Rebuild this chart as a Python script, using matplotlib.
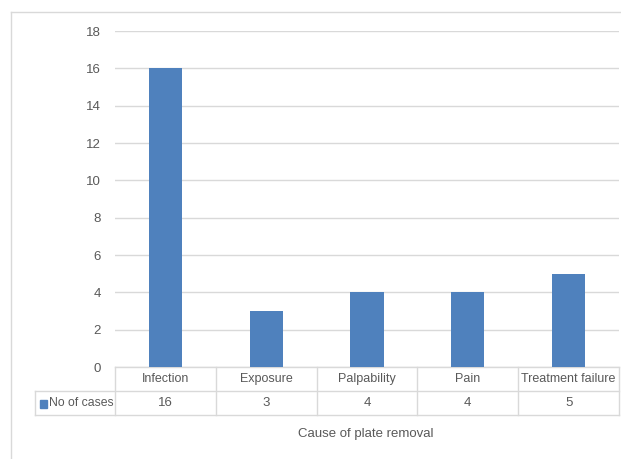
import matplotlib.pyplot as plt
from matplotlib.lines import Line2D
from matplotlib.patches import Rectangle

# Ursachen der Plattenentfernung
categories = ["Infection", "Exposure", "Palpability", "Pain", "Treatment failure"]
cases = [16, 3, 4, 4, 5]
series_name = "No of cases"
y_ticks = [0, 2, 4, 6, 8, 10, 12, 14, 16, 18]

bar_color = "#4f81bd"
grid_color = "#d9d9d9"
text_color = "#595959"
plt.rcParams['font.family'] = ['Liberation Sans Narrow', 'Liberation Sans', 'DejaVu Sans']

W, H = 621, 459
fig = plt.figure(figsize=(W / 100, H / 100), dpi=100)
ax = fig.add_axes([115 / W, 1 - 367 / H, 504 / W, 336 / H])

x = range(len(categories))
ax.bar(x, cases, width=0.33, color=bar_color, zorder=3)
ax.set_xlim(-0.5, len(categories) - 0.5)
ax.set_ylim(0, 18)
ax.set_yticks(y_ticks)
ax.set_xticks([])
ax.yaxis.grid(True, color=grid_color, linewidth=1)
ax.set_axisbelow(True)
ax.tick_params(axis='y', length=0, pad=10, labelsize=9.5, labelcolor=text_color)
for s in ax.spines.values():
    s.set_visible(False)

# Datentabelle unter der Achse (wie in Excel)
row_h = 24 / 336
left_leg = (35 - 115) / 504
n = len(categories)
tr = ax.transAxes
def hline(x0, x1, y):
    ax.add_line(Line2D([x0, x1], [y, y], transform=tr, color=grid_color, lw=1, clip_on=False))
def vline(xx, y0, y1):
    ax.add_line(Line2D([xx, xx], [y0, y1], transform=tr, color=grid_color, lw=1, clip_on=False))

hline(0, 1, 0)
hline(left_leg, 1, -row_h)
hline(left_leg, 1, -2 * row_h)
vline(left_leg, -row_h, -2 * row_h)
for i in range(n + 1):
    vline(i / n, 0, -2 * row_h)

for i, (c, v) in enumerate(zip(categories, cases)):
    xc = (i + 0.5) / n
    ax.text(xc, -row_h / 2, c, transform=tr, ha='center', va='center',
            fontsize=9, color=text_color)
    ax.text(xc, -1.5 * row_h, str(v), transform=tr, ha='center', va='center',
            fontsize=9.5, color=text_color)

# Legendenschlüssel
ax.add_patch(Rectangle((40 / W, 1 - 408 / H), 7 / W, 8 / H, transform=fig.transFigure,
                       color=bar_color, clip_on=False))
fig.text(49 / W, 1 - 403.5 / H, series_name, ha='left', va='center', fontsize=8.8, color=text_color)

fig.text(366 / W, 1 - 434 / H, "Cause of plate removal", ha='center', va='center',
         fontsize=9.5, color=text_color)

# Rahmen um das Diagramm
fig.add_artist(Line2D([11 / W, 11 / W], [0, 1 - 12 / H], transform=fig.transFigure,
                      color=grid_color, lw=1))
fig.add_artist(Line2D([11 / W, 1], [1 - 12 / H, 1 - 12 / H], transform=fig.transFigure,
                      color=grid_color, lw=1))

fig.savefig("out.png", dpi=100)
